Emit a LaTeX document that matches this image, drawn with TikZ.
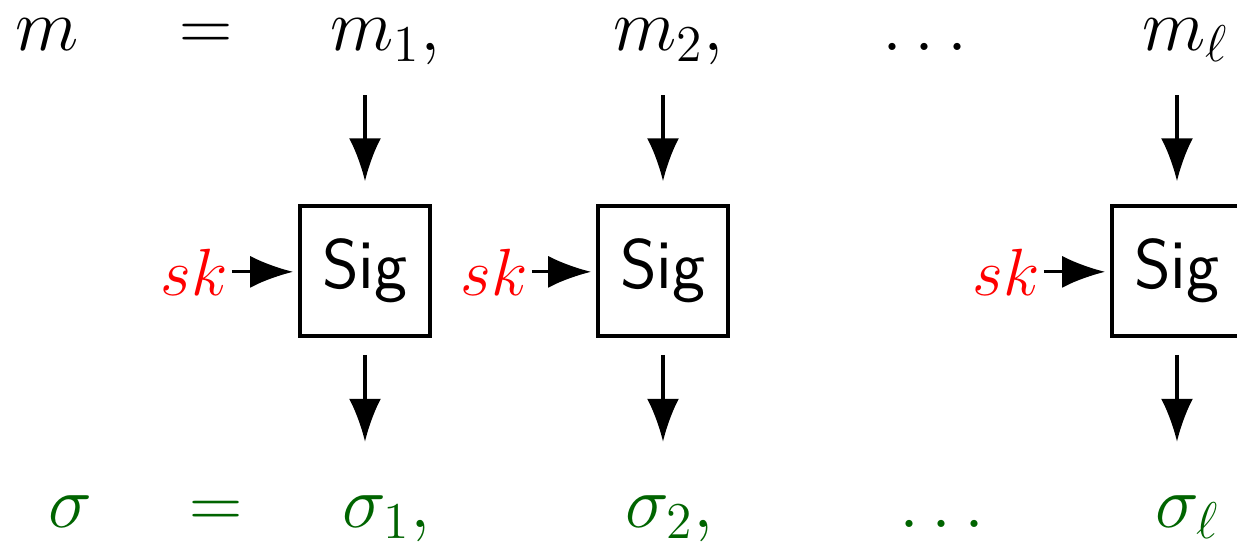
\documentclass[tikz,border=0pt]{standalone}
\definecolor{keyRed}{RGB}{255,0,0}
\definecolor{sigGreen}{RGB}{0,100,0}
\usepackage{fix-cm}
\usepackage{amsmath,amssymb}
\usepackage{tikz}
\usetikzlibrary{arrows.meta,positioning,calc}

\tikzset{
  rowtext/.style={inner sep=0pt, font=\fontsize{21}{25}\selectfont},
  sigbox/.style={draw, line width=1pt, minimum size=1.30cm, inner sep=0pt,
                 font=\fontsize{20}{24}\selectfont\sffamily},
  keytext/.style={inner sep=0pt, text=keyRed, font=\fontsize{19}{23}\selectfont},
  flow/.style={line width=0.9pt, -{Latex[length=4.3mm,width=3.2mm]}}
}

\begin{document}
\begin{tikzpicture}
        \useasboundingbox (0,0) rectangle (12.37,-5.45);

        % message row
        \node[rowtext, anchor=base west] (mAll) at (0.15,-0.50) {$m$};
        \node[rowtext, anchor=base] (eqTop) at (2.06,-0.50) {$=$};
        \node[rowtext, anchor=base west] (m1) at (3.30,-0.50) {$m_1,$};
        \node[rowtext, anchor=base west] (m2) at (6.13,-0.50) {$m_2,$};
        \node[rowtext, anchor=base] (dotsTop) at (9.31,-0.50) {$\dots$};
        \node[rowtext, anchor=base west] (mL) at (11.42,-0.50) {$m_\ell$};

        % signing boxes
        \node[sigbox] (sig1) at (3.65,-2.71) {Sig};
        \node[sigbox] (sig2) at (6.63,-2.71) {Sig};
        \node[sigbox] (sig3) at (11.77,-2.71) {Sig};

        \node[keytext, anchor=base east] (sk1) at (2.28,-2.95) {$sk$};
        \node[keytext, anchor=base east] (sk2) at (5.28,-2.95) {$sk$};
        \node[keytext, anchor=base east] (sk3) at (10.40,-2.95) {$sk$};

        % signature row
        \node[rowtext, text=sigGreen, anchor=base west] (sigAll) at (0.48,-5.27) {$\sigma$};
        \node[rowtext, text=sigGreen, anchor=base] (eqBot) at (2.16,-5.27) {$=$};
        \node[rowtext, text=sigGreen, anchor=base west] (s1) at (3.42,-5.27) {$\sigma_1,$};
        \node[rowtext, text=sigGreen, anchor=base west] (s2) at (6.25,-5.27) {$\sigma_2,$};
        \node[rowtext, text=sigGreen, anchor=base] (dotsBot) at (9.48,-5.27) {$\dots$};
        \node[rowtext, text=sigGreen, anchor=base west] (sL) at (11.55,-5.27) {$\sigma_\ell$};

        % arrows
        \draw[flow] ([yshift=1.09cm]sig1.north) -- ([yshift=0.23cm]sig1.north);
        \draw[flow] ([yshift=1.09cm]sig2.north) -- ([yshift=0.23cm]sig2.north);
        \draw[flow] ([yshift=1.09cm]sig3.north) -- ([yshift=0.23cm]sig3.north);

        \draw[flow] ([yshift=-0.17cm]sig1.south) -- ([yshift=-1.04cm]sig1.south);
        \draw[flow] ([yshift=-0.17cm]sig2.south) -- ([yshift=-1.04cm]sig2.south);
        \draw[flow] ([yshift=-0.17cm]sig3.south) -- ([yshift=-1.04cm]sig3.south);

        \draw[flow, shorten <=0.04cm, shorten >=0.05cm] (sk1.east) -- (sk1.east -| sig1.west);
        \draw[flow, shorten <=0.04cm, shorten >=0.05cm] (sk2.east) -- (sk2.east -| sig2.west);
        \draw[flow, shorten <=0.04cm, shorten >=0.05cm] (sk3.east) -- (sk3.east -| sig3.west);
      \end{tikzpicture}
\end{document}
